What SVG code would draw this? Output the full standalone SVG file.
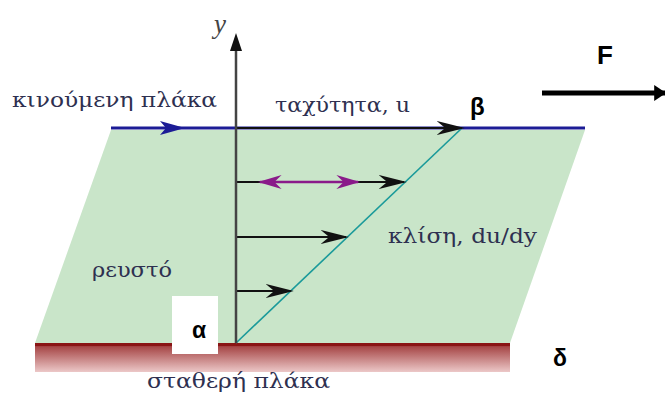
<svg xmlns="http://www.w3.org/2000/svg" width="665" height="394" viewBox="0 0 665 394">
<style>
.lbl{font-family:"DejaVu Serif","Liberation Serif",serif;font-size:21px;fill:#2e3050}
.bold{font-family:"Liberation Sans","DejaVu Sans",sans-serif;font-weight:bold;fill:#000}
.vel{stroke:#111;stroke-width:2.2;fill:none}
</style>
<defs>
<linearGradient id="plate" x1="0" y1="0" x2="0" y2="1">
<stop offset="0" stop-color="#8e1a1a"/>
<stop offset="0.15" stop-color="#a84a4a"/>
<stop offset="1" stop-color="#ecc8c8"/>
</linearGradient>
<marker id="ahBig" viewBox="0 0 10 10" refX="9" refY="5" markerWidth="28" markerHeight="14" markerUnits="userSpaceOnUse" orient="auto" preserveAspectRatio="none">
<path d="M0,0 L10,5 L0,10 L3,5 Z" fill="#111"/>
</marker>
<marker id="ahP" viewBox="0 0 10 10" refX="9" refY="5" markerWidth="24" markerHeight="14" markerUnits="userSpaceOnUse" orient="auto-start-reverse" preserveAspectRatio="none">
<path d="M0,0 L10,5 L0,10 L3,5 Z" fill="#8a1a8a"/>
</marker>
<marker id="ahF" viewBox="0 0 10 10" refX="9" refY="5" markerWidth="12" markerHeight="16" markerUnits="userSpaceOnUse" orient="auto" preserveAspectRatio="none">
<path d="M0,0 L10,5 L0,10 Z" fill="#000"/>
</marker>
</defs>
<rect width="665" height="394" fill="#fff"/>
<g id="fluid">
<polygon points="111,130 585,130 510,343 35,343" fill="#c9e5c9"/>
<text class="lbl" x="92" y="277" textLength="80" lengthAdjust="spacingAndGlyphs">ρευστό</text>
</g>
<g id="fixed-plate">
<rect x="35" y="343" width="475" height="29" fill="url(#plate)"/>
<rect x="35" y="343" width="475" height="3" fill="#8a1515"/>
<text class="lbl" x="147" y="388" textLength="183" lengthAdjust="spacingAndGlyphs">σταθερή πλάκα</text>
</g>
<g id="moving-plate">
<line x1="111" y1="128" x2="585" y2="128" stroke="#1c1c96" stroke-width="3"/>
<path d="M160,121 L185,128 L160,135 L166,128 Z" fill="#1c1c96"/>
<text class="lbl" x="12" y="107" textLength="205" lengthAdjust="spacingAndGlyphs">κινούμενη πλάκα</text>
</g>
<g id="connectors">
<line x1="236" y1="343" x2="462" y2="128" stroke="#1a9a9a" stroke-width="1.6"/>
<line class="vel" x1="236" y1="128" x2="462" y2="128" marker-end="url(#ahBig)"/>
<line class="vel" x1="236" y1="182" x2="404" y2="182" marker-end="url(#ahBig)"/>
<line class="vel" x1="236" y1="237" x2="346" y2="237" marker-end="url(#ahBig)"/>
<line class="vel" x1="236" y1="291" x2="291" y2="291" marker-end="url(#ahBig)"/>
<line x1="260" y1="182" x2="358" y2="182" stroke="#8a1a8a" stroke-width="2.5" marker-start="url(#ahP)" marker-end="url(#ahP)"/>
<line x1="236" y1="343" x2="236" y2="48" stroke="#444" stroke-width="2.5"/>
<path d="M236,33 L242,51 L230,51 Z" fill="#111"/>
<line x1="542" y1="93" x2="665" y2="93" stroke="#000" stroke-width="5" marker-end="url(#ahF)"/>
</g>
<g id="labels">
<text x="214" y="33" font-family="Liberation Serif,serif" font-style="italic" font-size="27" fill="#444">y</text>
<text class="lbl" x="275" y="112" textLength="135" lengthAdjust="spacingAndGlyphs">ταχύτητα, u</text>
<text class="lbl" x="388" y="243" textLength="149" lengthAdjust="spacingAndGlyphs">κλίση, du/dy</text>
<text class="bold" x="470" y="115" font-size="24">β</text>
<text class="bold" x="597" y="64" font-size="26">F</text>
<text class="bold" x="553" y="366" font-size="23">δ</text>
</g>
<g id="alpha">
<rect x="172" y="296" width="46" height="58" fill="#fff"/>
<text class="bold" x="192" y="338" font-size="23">α</text>
</g>
</svg>
